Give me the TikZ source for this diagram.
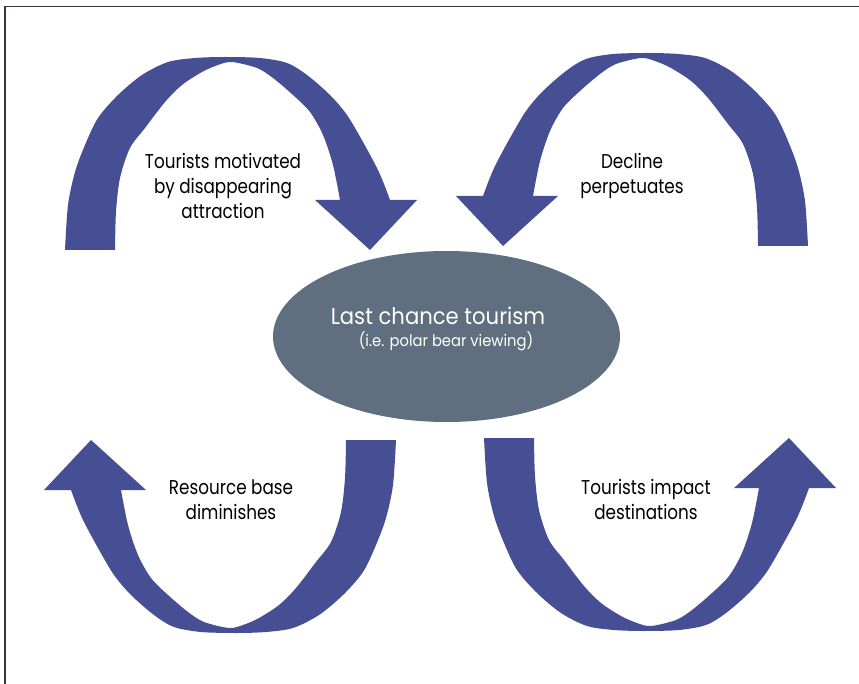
\documentclass[tikz,border=0pt]{standalone}
\usepackage{fontspec}
\setmainfont[FakeStretch=0.84]{Poppins}
\newfontfamily\hubfont[FakeStretch=0.92]{Poppins}
\usetikzlibrary{shapes.geometric}

\definecolor{cycleblue}{RGB}{71,79,148}
\definecolor{hubgrey}{RGB}{95,111,128}
\definecolor{framegrey}{RGB}{59,54,51}

\newcommand{\cyclearrow}[1]{%
  \fill[cyclefill,#1] plot[smooth] coordinates {(65,250) (68,205) (75,172) (85,145) (98,118) (118,95) (142,75) (168,62) (195,58) (225,57) (260,58) (287,63) (307,75) (330,95) (347,115) (363,142) (377,168) (384,184) (390,200)}
    -- (417,200) -- (370,250) -- (315,200) -- (340,200)
    -- plot[smooth] coordinates {(340,200) (333,165) (323,135) (310,112) (293,95) (273,78) (257,68) (232,62) (218,65) (202,72) (182,85) (165,102) (145,128) (130,148) (120,178) (116,212) (115,250)}
    -- cycle;}

\begin{document}
\begin{tikzpicture}[x=1pt,y=-1pt,
    cyclefill/.style={fill=cycleblue},
    hub/.style={ellipse,fill=hubgrey,minimum width=347,minimum height=171,inner sep=0},
    lbl/.style={align=center,inner sep=0,font=\fontsize{20}{25}\selectfont}]
  \useasboundingbox (0,0) rectangle (859,684);
  \draw[framegrey,line width=1.3] (5,684) -- (5,6.5) -- (859,6.5);
  \cyclearrow{}
  \cyclearrow{shift={(873,-4)},xscale=-1}
  \cyclearrow{shift={(461,690)},xscale=-1,yscale=-1}
  \cyclearrow{shift={(419,688)},yscale=-1}
  \node[hub] (hub) at (446.5,336.5) {};
  \node[white,anchor=base,inner sep=0,font=\hubfont\fontsize{23}{27}\selectfont] (title) at (438,325) {Last chance tourism};
  \node[white,anchor=base,inner sep=0,font=\hubfont\fontsize{16}{19}\selectfont] (subtitle) at (446,347) {(i.e. polar bear viewing)};
  \node[lbl] (motivate) at (223,186) {Tourists motivated\\by disappearing\\attraction};
  \node[lbl] (decline) at (632,176) {Decline\\perpetuates};
  \node[lbl] (diminish) at (231,500) {Resource base\\diminishes};
  \node[lbl] (impact) at (646,499) {Tourists impact\\destinations};
\end{tikzpicture}
\end{document}
